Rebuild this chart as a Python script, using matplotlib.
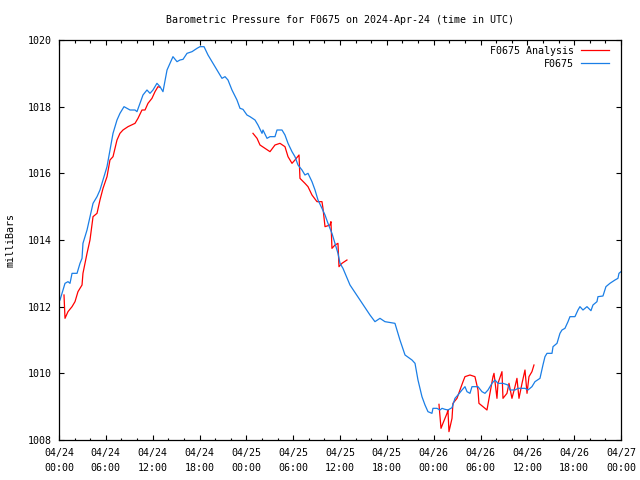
import matplotlib
matplotlib.use('Agg')
import matplotlib.pyplot as plt
import matplotlib.dates as mdates
import pandas as pd

# hours after 2024-04-24 00:00 UTC, pressure in mb
obs_hours = [0.13, 0.77, 1.15, 1.41, 1.67, 2.31, 2.69, 2.95, 3.07, 3.59, 3.97, 4.36, 4.87, 5.25,
             5.64, 6.15, 6.53, 6.92, 7.43, 7.81, 8.33, 8.71, 9.10, 9.74, 9.99, 10.38, 10.76, 11.27,
             11.66, 12.04, 12.55, 12.94, 13.32, 13.84, 14.22, 14.60, 15.12, 15.50, 15.89, 16.40,
             17.04, 17.68, 18.06, 18.58, 19.09, 19.73, 20.24, 20.88, 21.27, 21.65, 22.16, 22.80,
             23.19, 23.57, 24.08, 24.47, 25.11, 25.49, 26.01, 26.13, 26.65, 27.03, 27.67, 27.93,
             28.57, 28.95, 29.34, 29.85, 30.23, 30.62, 31.13, 31.51, 31.90, 32.41, 32.80, 33.18,
             33.69, 34.08, 34.46, 34.97, 35.36, 35.74, 36.00, 36.38, 37.28, 38.56, 39.84, 40.48,
             41.12, 41.76, 43.04, 43.68, 44.33, 45.22, 45.61, 45.99, 46.50, 46.89, 47.27, 47.78,
             47.91, 48.42, 48.81, 49.07, 49.45, 49.83, 50.35, 50.73, 51.11, 51.63, 52.01, 52.27,
             52.65, 52.91, 53.68, 54.19, 54.57, 54.96, 55.47, 55.85, 56.24, 56.88, 57.52, 57.78,
             58.42, 58.80, 59.70, 60.08, 60.59, 60.98, 61.62, 62.00, 62.26, 62.52, 63.16, 63.29,
             63.80, 64.18, 64.44, 64.82, 65.21, 65.46, 66.10, 66.49, 66.74, 67.13, 67.64, 68.15,
             68.41, 68.92, 69.05, 69.69, 70.07, 70.58, 71.23, 71.61, 71.74, 72.0]
obs_mb = [1012.2, 1012.7, 1012.75, 1012.7, 1013.0, 1013.0, 1013.3, 1013.45, 1013.9, 1014.3, 1014.7,
          1015.1, 1015.3, 1015.5, 1015.8, 1016.2, 1016.7, 1017.2, 1017.6, 1017.8, 1018.0, 1017.95,
          1017.9, 1017.9, 1017.85, 1018.1, 1018.35, 1018.5, 1018.4, 1018.5, 1018.7, 1018.6, 1018.45,
          1019.1, 1019.3, 1019.5, 1019.35, 1019.4, 1019.42, 1019.6, 1019.65, 1019.75, 1019.8, 1019.8,
          1019.55, 1019.3, 1019.1, 1018.85, 1018.9, 1018.8, 1018.5, 1018.2, 1017.95, 1017.92, 1017.75,
          1017.7, 1017.6, 1017.45, 1017.2, 1017.3, 1017.05, 1017.1, 1017.1, 1017.3, 1017.3, 1017.15,
          1016.9, 1016.65, 1016.5, 1016.25, 1016.1, 1015.95, 1016.0, 1015.75, 1015.5, 1015.2, 1014.95,
          1014.75, 1014.5, 1014.2, 1013.9, 1013.6, 1013.3, 1013.15, 1012.65, 1012.2, 1011.75, 1011.55,
          1011.65, 1011.55, 1011.5, 1011.0, 1010.55, 1010.4, 1010.3, 1009.8, 1009.3, 1009.05, 1008.85,
          1008.8, 1008.95, 1008.95, 1008.9, 1008.95, 1008.92, 1008.9, 1008.97, 1009.25, 1009.35, 1009.5,
          1009.6, 1009.45, 1009.4, 1009.6, 1009.6, 1009.45, 1009.4, 1009.5, 1009.7, 1009.8, 1009.7,
          1009.7, 1009.65, 1009.5, 1009.5, 1009.55, 1009.55, 1009.5, 1009.6, 1009.75, 1009.85, 1010.25,
          1010.5, 1010.6, 1010.6, 1010.8, 1010.9, 1011.2, 1011.3, 1011.35, 1011.55, 1011.7, 1011.7,
          1011.9, 1012.0, 1011.9, 1012.0, 1011.88, 1012.05, 1012.15, 1012.3, 1012.32, 1012.6, 1012.7,
          1012.8, 1012.85, 1013.0, 1013.05]

# analysis, three separate runs
ana1_hours = [0.64, 0.77, 1.15, 1.67, 2.05, 2.43, 2.95, 3.07, 3.59, 3.97, 4.36, 4.87, 5.25, 5.64,
              6.15, 6.53, 6.92, 7.43, 7.81, 8.20, 8.84, 9.74, 10.12, 10.63, 11.02, 11.40, 11.91,
              12.30, 12.68, 12.94]
ana1_mb = [1012.35, 1011.65, 1011.85, 1012.0, 1012.15, 1012.45, 1012.65, 1013.0, 1013.6, 1014.0,
           1014.7, 1014.8, 1015.2, 1015.55, 1015.9, 1016.4, 1016.5, 1017.0, 1017.2, 1017.3, 1017.4,
           1017.5, 1017.65, 1017.9, 1017.9, 1018.1, 1018.25, 1018.45, 1018.6, 1018.58]
ana2_hours = [24.85, 25.37, 25.75, 26.39, 27.03, 27.67, 28.31, 28.95, 29.34, 29.85, 30.23, 30.75,
              30.87, 31.51, 31.90, 32.41, 33.05, 33.69, 33.82, 34.08, 34.72, 34.84, 34.97, 35.36,
              35.74, 35.87, 36.25, 36.89]
ana2_mb = [1017.2, 1017.05, 1016.85, 1016.75, 1016.65, 1016.85, 1016.9, 1016.8, 1016.5, 1016.3,
           1016.4, 1016.55, 1015.85, 1015.7, 1015.6, 1015.35, 1015.15, 1015.15, 1014.95, 1014.4,
           1014.45, 1014.55, 1013.75, 1013.85, 1013.9, 1013.2, 1013.3, 1013.4]
ana3_hours = [48.68, 48.94, 49.19, 49.71, 49.83, 49.96, 50.35, 50.47, 50.99, 51.37, 51.76, 52.01,
              52.65, 53.29, 53.68, 53.80, 54.32, 54.83, 55.21, 55.60, 55.73, 56.11, 56.24, 56.75,
              56.88, 57.39, 57.65, 58.03, 58.42, 58.67, 58.93, 59.32, 59.70, 59.96, 60.21, 60.59,
              60.85]
ana3_mb = [1009.07, 1008.35, 1008.5, 1008.8, 1008.9, 1008.25, 1008.65, 1009.1, 1009.25, 1009.5,
           1009.75, 1009.9, 1009.95, 1009.9, 1009.5, 1009.1, 1009.0, 1008.9, 1009.4, 1009.9, 1010.0,
           1009.25, 1009.7, 1010.05, 1009.25, 1009.4, 1009.7, 1009.25, 1009.6, 1009.85, 1009.25,
           1009.7, 1010.1, 1009.4, 1009.9, 1010.05, 1010.25]

start = pd.Timestamp('2024-04-24 00:00')
def to_time(hours):
    return start + pd.to_timedelta(hours, unit='h')

plt.rcParams['font.family'] = 'DejaVu Sans Mono'
plt.rcParams['font.size'] = 7.2

fig = plt.figure(figsize=(6.4, 4.8), dpi=100)
ax = fig.add_axes([59/640, 40/480, 562/640, 400/480])

red = '#ff0000'
blue = '#1a7ee6'
ax.plot(to_time(ana1_hours), ana1_mb, color=red, lw=0.9, label='F0675 Analysis')
ax.plot(to_time(ana2_hours), ana2_mb, color=red, lw=0.9)
ax.plot(to_time(ana3_hours), ana3_mb, color=red, lw=0.9)
ax.plot(to_time(obs_hours), obs_mb, color=blue, lw=0.9, label='F0675')

ax.set_xlim(start, start + pd.Timedelta(hours=72))
ax.set_ylim(1008, 1020)
ax.set_yticks(range(1008, 1021, 2))
ax.xaxis.set_major_locator(mdates.HourLocator(byhour=range(0, 24, 6)))
ax.xaxis.set_minor_locator(mdates.HourLocator(byhour=range(0, 24, 2)))
ax.xaxis.set_major_formatter(mdates.DateFormatter('%m/%d\n%H:%M'))
for lab in ax.get_xticklabels():
    lab.set_linespacing(1.6)

ax.tick_params(which='both', direction='in', top=True, right=True, width=0.8)
ax.tick_params(which='major', length=3.6)
ax.tick_params(which='minor', length=1.8)
ax.tick_params(axis='x', pad=6)
ax.tick_params(axis='y', pad=5)
for s in ax.spines.values():
    s.set_linewidth(0.9)

ax.set_ylabel('milliBars', labelpad=9)
fig.text(340/640, 1 - 20/480, 'Barometric Pressure for F0675 on 2024-Apr-24 (time in UTC)',
         ha='center', va='center')

ax.legend(loc='upper right', bbox_to_anchor=(1 - 7/562, 1 - 1/400), frameon=False,
          markerfirst=False, handlelength=2.8, handletextpad=0.7, borderaxespad=0.2,
          borderpad=0.3, labelspacing=0.3)

plt.savefig('out.png')
